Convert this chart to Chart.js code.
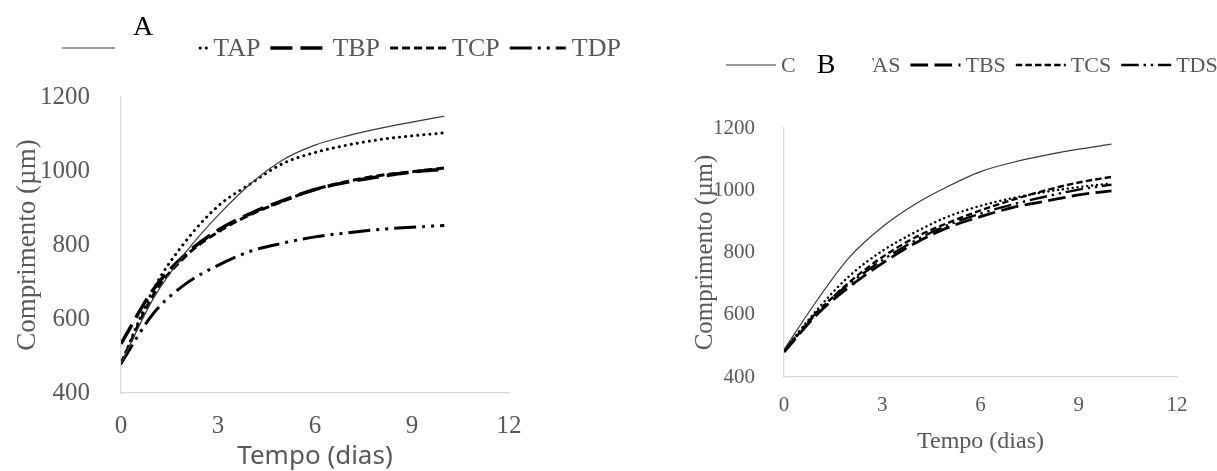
<!DOCTYPE html>
<html>
<head>
<meta charset="utf-8">
<script src="https://cdn.jsdelivr.net/npm/chart.js@4"></script>
<style>
  body { margin: 0; background: #fff; width: 1217px; height: 471px; overflow: hidden; position: relative; }
  .painel { position: absolute; top: 0; height: 471px; }
</style>
</head>
<body>
<div class="painel" style="left:0;width:620px"><canvas id="graficoA"></canvas></div>
<div class="painel" style="left:620px;width:597px"><canvas id="graficoB"></canvas></div>
<script>
// dias de cultivo
const dias = [0, 1, 2, 3, 4, 5, 6, 7, 8, 9, 10];
const xTicks = [0, 3, 6, 9, 12];
const yTicks = [400, 600, 800, 1000, 1200];

// comprimento (µm) - grupo P
const labelsP = ['C', 'TAP', 'TBP', 'TCP', 'TDP'];
const cP  = [480, 655, 780, 880, 965, 1030, 1070, 1095, 1115, 1132, 1148];
const taP = [480, 680, 810, 905, 965, 1020, 1050, 1070, 1085, 1095, 1103];
const tbP = [533, 680, 775, 840, 885, 920, 950, 970, 985, 997, 1005];
const tcP = [480, 665, 770, 835, 882, 918, 950, 972, 988, 998, 1008];
const tdP = [480, 615, 695, 745, 783, 805, 822, 833, 842, 848, 853];

// comprimento (µm) - grupo S
const labelsS = ['C', 'TAS', 'TBS', 'TCS', 'TDS'];
const cS  = [488, 645, 785, 882, 955, 1012, 1060, 1090, 1113, 1132, 1148];
const taS = [485, 615, 725, 805, 865, 915, 950, 975, 995, 1010, 1022];
const tbS = [480, 600, 690, 765, 830, 880, 915, 945, 965, 985, 998];
const tcS = [482, 605, 705, 785, 848, 895, 935, 970, 1000, 1025, 1043];
const tdS = [485, 608, 700, 775, 838, 888, 925, 955, 980, 1002, 1018];

const serif = '"Liberation Serif", "Times New Roman", serif';
const cinza = '#595959';

// estilos das linhas: C fina, TA pontilhada, TB tracejado longo, TC tracejado curto, TD traço-ponto-ponto
function estilos(escala) {
  return [
    { borderColor: '#3a3a3a', borderWidth: 1.2, borderDash: [] },
    { borderColor: '#000', borderWidth: 3 * escala, borderDash: [0.1, 6 * escala], borderCapStyle: 'round' },
    { borderColor: '#000', borderWidth: 3.5 * escala, borderDash: [22 * escala, 8 * escala] },
    { borderColor: '#000', borderWidth: 3 * escala, borderDash: [8 * escala, 4 * escala] },
    { borderColor: '#000', borderWidth: 3 * escala, borderDash: [22 * escala, 6 * escala, 3 * escala, 6 * escala, 3 * escala, 6 * escala] }
  ];
}

function montarSeries(labels, series, escala) {
  const est = estilos(escala);
  return series.map((s, i) => Object.assign({
    label: labels[i],
    data: dias.map((d, j) => ({ x: d, y: s[j] })),
    pointRadius: 0,
    fill: false,
    cubicInterpolationMode: 'monotone'
  }, est[i]));
}

// legenda desenhada à mão, com a letra do painel por cima
const legendaLinhas = {
  id: 'legendaLinhas',
  afterDraw(chart, args, o) {
    const ctx = chart.ctx;
    ctx.save();
    ctx.font = o.fonte + 'px ' + serif;
    ctx.textBaseline = 'middle';
    ctx.textAlign = 'left';
    let x = o.x;
    chart.data.datasets.forEach(ds => {
      ctx.beginPath();
      ctx.strokeStyle = ds.borderColor;
      ctx.lineWidth = ds.borderWidth;
      ctx.setLineDash(ds.borderDash || []);
      ctx.lineCap = ds.borderCapStyle || 'butt';
      ctx.moveTo(x, o.y);
      ctx.lineTo(x + o.amostra, o.y);
      ctx.stroke();
      x += o.amostra + o.espaco;
      ctx.fillStyle = cinza;
      ctx.fillText(ds.label, x, o.y + 1);
      x += ctx.measureText(ds.label).width + o.depois;
    });
    ctx.setLineDash([]);
    ctx.fillStyle = '#fff';
    ctx.fillRect(o.caixa[0], o.caixa[1], o.caixa[2], o.caixa[3]);
    ctx.fillStyle = '#000';
    ctx.font = o.letraFonte + 'px ' + serif;
    ctx.textAlign = 'center';
    ctx.textBaseline = 'alphabetic';
    ctx.fillText(o.letra, o.letraX, o.letraY);
    ctx.restore();
  }
};

function eixos(c) {
  return {
    x: {
      type: 'linear', min: 0, max: 12,
      afterBuildTicks: s => { s.ticks = xTicks.map(v => ({ value: v })); },
      afterFit: s => { s.height = c.xAltura; },
      grid: { display: false },
      border: { color: '#d9d9d9', width: 1.3 },
      ticks: { padding: c.xPad, color: cinza, font: { family: serif, size: c.tick }, callback: v => String(v) },
      title: { display: true, text: 'Tempo (dias)', color: cinza, font: c.xTituloFonte, padding: { top: 0, bottom: c.xTituloPad } }
    },
    y: {
      type: 'linear', min: 400, max: 1200,
      afterBuildTicks: s => { s.ticks = yTicks.map(v => ({ value: v })); },
      afterFit: s => { s.width = c.yLargura; },
      grid: { display: false },
      border: { color: '#d9d9d9', width: 1.3 },
      ticks: { padding: c.yPad, color: cinza, font: { family: serif, size: c.tick }, callback: v => String(v) },
      title: { display: true, text: 'Comprimento (µm)', color: cinza, font: { family: serif, size: c.yTitulo, lineHeight: 1 }, padding: { top: c.yTituloPad, bottom: 0 } }
    }
  };
}

new Chart(document.getElementById('graficoA'), {
  type: 'line',
  data: { datasets: montarSeries(labelsP, [cP, taP, tbP, tcP, tdP], 1) },
  options: {
    responsive: true, maintainAspectRatio: false, animation: false,
    layout: { padding: { left: 0, top: 97, right: 111, bottom: 0 } },
    plugins: {
      legend: { display: false }, tooltip: { enabled: false },
      legendaLinhas: {
        x: 62, y: 48, fonte: 26, amostra: 56, espaco: 6, depois: 10,
        caixa: [115, 5, 82, 58], letra: 'A', letraFonte: 28, letraX: 143, letraY: 35
      }
    },
    scales: eixos({
      xAltura: 78, xPad: 10, tick: 25, yLargura: 121, yPad: 23,
      xTituloFonte: { family: '"Noto Sans", sans-serif', size: 26, lineHeight: 1 }, xTituloPad: 1,
      yTitulo: 27, yTituloPad: 14
    })
  },
  plugins: [legendaLinhas]
});

new Chart(document.getElementById('graficoB'), {
  type: 'line',
  data: { datasets: montarSeries(labelsS, [cS, taS, tbS, tcS, tdS], 0.8) },
  options: {
    responsive: true, maintainAspectRatio: false, animation: false,
    layout: { padding: { left: 0, top: 128, right: 40, bottom: 0 } },
    plugins: {
      legend: { display: false }, tooltip: { enabled: false },
      legendaLinhas: {
        x: 106, y: 65, fonte: 22, amostra: 50, espaco: 5, depois: 10,
        caixa: [180, 40, 72, 45], letra: 'B', letraFonte: 28, letraX: 206, letraY: 73
      }
    },
    scales: eixos({
      xAltura: 94, xPad: 8, tick: 21, yLargura: 164, yPad: 21,
      xTituloFonte: { family: serif, size: 24, lineHeight: 1 }, xTituloPad: 17,
      yTitulo: 25, yTituloPad: 73
    })
  },
  plugins: [legendaLinhas]
});
</script>
</body>
</html>
